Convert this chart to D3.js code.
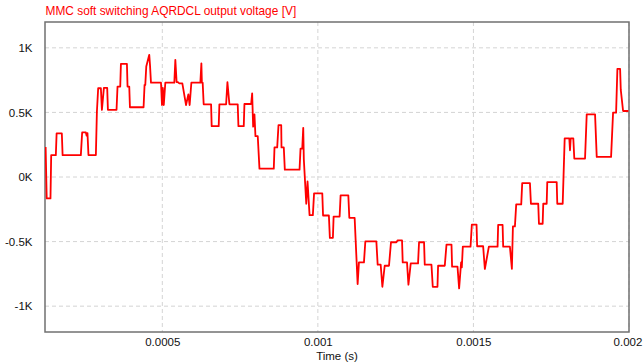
<!DOCTYPE html>
<html lang="en">
<head>
<meta charset="UTF-8">
<title>MMC soft switching AQRDCL output voltage</title>
<style>
  body { margin: 0; background: #fff; }
  svg { display: block; font-family: "Liberation Sans", Arial, sans-serif; }
</style>
</head>
<body>
<svg id="chart" width="643" height="363"></svg>
<script src="https://d3js.org/d3.v7.min.js"></script>
<script>
// sample times in microseconds
const timeUs = [
  125.0, 128.5, 140.6, 142.9, 157.8, 160.3, 177.1, 179.6, 238.2, 242.4,
  254.3, 256.9, 259.5, 262.7, 286.5, 289.8, 293.9, 302.6, 305.9, 312.3,
  322.9, 325.2, 352.9, 356.1, 364.8, 367.0, 386.3, 388.3, 393.8, 396.0,
  439.8, 443.0, 445.3, 448.5, 458.1, 460.4, 463.6, 495.8, 499.0, 501.6,
  504.8, 509.7, 538.6, 541.9, 546.0, 549.3, 554.7, 564.4, 576.3, 583.7,
  587.9, 593.4, 622.3, 625.6, 627.2, 629.8, 633.0, 656.8, 658.7, 681.3,
  683.5, 705.1, 709.3, 715.7, 742.4, 744.7, 761.8, 764.0, 785.6, 788.8,
  792.0, 796.2, 799.4, 806.8, 812.3, 858.3, 860.6, 869.3, 873.5, 882.2,
  883.1, 890.5, 893.8, 941.1, 944.3, 949.8, 953.0, 954.9, 962.7, 966.8,
  973.3, 983.9, 987.8, 1014.2, 1016.7, 1035.4, 1038.6, 1048.3, 1050.6, 1069.9,
  1073.1, 1097.9, 1101.1, 1118.2, 1121.4, 1127.8, 1132.0, 1148.1, 1152.6, 1188.0,
  1192.2, 1201.9, 1207.3, 1214.8, 1228.6, 1235.0, 1252.4, 1256.6, 1270.5, 1272.7,
  1286.5, 1291.1, 1298.5, 1322.0, 1325.2, 1341.3, 1343.5, 1365.1, 1369.3, 1384.4,
  1386.4, 1407.9, 1413.4, 1429.5, 1431.4, 1448.8, 1454.0, 1460.4, 1462.7, 1465.9,
  1490.7, 1494.9, 1510.0, 1511.9, 1531.2, 1536.7, 1549.6, 1577.6, 1579.5, 1593.7,
  1595.6, 1617.2, 1623.6, 1626.9, 1633.3, 1637.5, 1653.6, 1656.8, 1681.6, 1684.8,
  1708.3, 1710.6, 1722.5, 1724.4, 1735.4, 1737.3, 1767.6, 1769.5, 1786.9, 1793.3,
  1808.1, 1810.4, 1812.6, 1821.0, 1824.2, 1858.7, 1864.1, 1890.9, 1896.3, 1942.4,
  1948.8, 1958.5, 1962.7, 1971.4, 1973.6, 1981.0, 1998.1
];

// output voltage in volts at those times
const voltage = [
  233, -166, -166, 169, 169, 337, 337, 169, 169, 345,
  345, 320, 340, 170, 170, 505, 687, 687, 520, 690,
  690, 520, 520, 700, 700, 876, 876, 700, 700, 540,
  540, 713, 713, 855, 946, 870, 730, 730, 557, 690,
  557, 730, 730, 907, 735, 735, 725, 725, 557, 640,
  557, 730, 730, 880, 730, 730, 563, 563, 394, 394,
  563, 563, 734, 563, 563, 394, 394, 565, 565, 648,
  390, 485, 316, 316, 65, 65, 229, 229, 402, 402,
  229, 229, 57, 57, 220, 220, 381, 135, -207, -35,
  -295, -295, -127, -127, -298, -298, -471, -471, -306, -306,
  -142, -142, -316, -316, -487, -829, -661, -661, -498, -498,
  -679, -679, -850, -687, -687, -505, -505, -490, -490, -661,
  -661, -834, -669, -669, -505, -505, -679, -679, -850, -850,
  -687, -687, -523, -523, -694, -694, -863, -661, -700, -539,
  -539, -368, -368, -536, -536, -712, -539, -539, -370, -370,
  -539, -539, -712, -383, -383, -212, -212, -47, -47, -207,
  -207, -362, -362, -207, -207, -39, -39, -207, -207, 299,
  299, 207, 299, 299, 143, 143, 485, 485, 156, 156,
  498, 498, 837, 837, 674, 511, 511
];

const xTicks = [0.0005, 0.001, 0.0015, 0.002];
const yTicks = [-1000, -500, 0, 500, 1000];

const margin = { left: 45, right: 14, top: 22, bottom: 31 };
const width = 643, height = 363;
const svg = d3.select("#chart");

const x = d3.scaleLinear()
    .domain([0.000123, 0.002])
    .range([margin.left, width - margin.right]);
const y = d3.scaleLinear()
    .domain([-1200, 1200])
    .range([height - margin.bottom, margin.top]);

const points = timeUs.map((t, i) => [t * 1e-6, voltage[i]]);

// grid
svg.append("g").selectAll("line")
    .data(xTicks)
    .enter().append("line")
    .attr("x1", d => x(d)).attr("x2", d => x(d))
    .attr("y1", margin.top).attr("y2", height - margin.bottom)
    .attr("stroke", "#d4d4d4")
    .attr("stroke-dasharray", "4,3");

svg.append("g").selectAll("line")
    .data(yTicks)
    .enter().append("line")
    .attr("x1", margin.left).attr("x2", width - margin.right)
    .attr("y1", d => y(d)).attr("y2", d => y(d))
    .attr("stroke", "#d4d4d4")
    .attr("stroke-dasharray", "4,3");

// axes (labels only, the frame is drawn separately)
const xAxis = svg.append("g")
    .attr("transform", `translate(0,${height - margin.bottom})`)
    .call(d3.axisBottom(x).tickValues(xTicks).tickSize(0).tickPadding(6).tickFormat(d3.format("")));
const yAxis = svg.append("g")
    .attr("transform", `translate(${margin.left},0)`)
    .call(d3.axisLeft(y).tickValues(yTicks).tickSize(0).tickPadding(12.5).tickFormat(d => (d / 1000) + "K"));

[xAxis, yAxis].forEach(g => {
    g.select(".domain").remove();
    g.selectAll("text")
        .attr("font-family", "Liberation Sans, Arial, sans-serif")
        .attr("font-size", 11.5)
        .attr("fill", "#111");
});
// last x label sits right at the window edge
xAxis.selectAll(".tick text").filter(d => d === 0.002).attr("dx", -1.5);

// frame
svg.append("rect")
    .attr("x", margin.left).attr("y", margin.top)
    .attr("width", width - margin.left - margin.right)
    .attr("height", height - margin.top - margin.bottom)
    .attr("fill", "none")
    .attr("stroke", "#707070")
    .attr("stroke-width", 1.5);

// trace, drawn over the frame
const clipId = "plot-clip";
svg.append("clipPath").attr("id", clipId)
    .append("rect")
    .attr("x", margin.left).attr("y", margin.top)
    .attr("width", width - margin.left - margin.right)
    .attr("height", height - margin.top - margin.bottom);

svg.append("path")
    .datum(points)
    .attr("clip-path", `url(#${clipId})`)
    .attr("fill", "none")
    .attr("stroke", "#ff0000")
    .attr("stroke-width", 1.8)
    .attr("stroke-linejoin", "round")
    .attr("d", d3.line().x(d => x(d[0])).y(d => y(d[1])));

// titles
svg.append("text")
    .attr("x", 45.5).attr("y", 15)
    .attr("font-size", 11.9)
    .attr("fill", "#ff0000")
    .text("MMC soft switching AQRDCL output voltage [V]");

svg.append("text")
    .attr("x", (margin.left + width - margin.right) / 2)
    .attr("y", 359.5)
    .attr("text-anchor", "middle")
    .attr("font-size", 11.5)
    .attr("fill", "#111")
    .text("Time (s)");
</script>
</body>
</html>
